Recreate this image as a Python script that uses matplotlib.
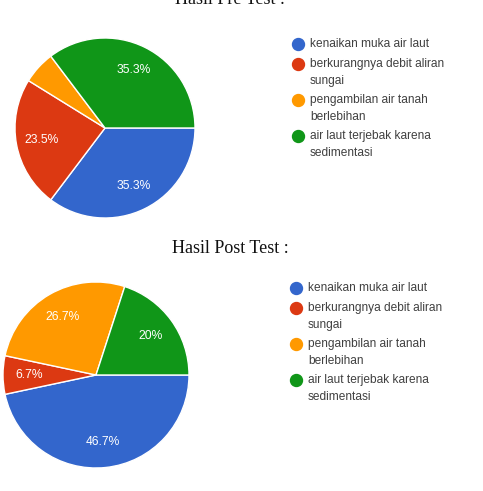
import matplotlib

matplotlib.use("Agg")
import matplotlib.pyplot as plt

categories = [
    "kenaikan muka air laut",
    "berkurangnya debit aliran\nsungai",
    "pengambilan air tanah\nberlebihan",
    "air laut terjebak karena\nsedimentasi",
]
colors = ["#3366cc", "#dc3912", "#ff9900", "#109618"]
pre_counts = [6, 4, 1, 6]
post_counts = [7, 1, 4, 3]
titles = ["Hasil Pre Test :", "Hasil Post Test :"]

W, H = 483, 491
fig = plt.figure(figsize=(W / 100, H / 100), dpi=100)
fig.patch.set_facecolor("white")


def px_axes(x, y, w, h):
    # x, y = top-left corner in pixels
    return fig.add_axes([x / W, 1 - (y + h) / H, w / W, h / H])


def pct_label(p):
    return "" if p < 6 else f"{round(p, 1):g}%"


def draw_pie(counts, cx, cy, r):
    ax = px_axes(cx - r, cy - r, 2 * r, 2 * r)
    ax.pie(
        counts,
        colors=colors,
        startangle=0,
        counterclock=False,
        autopct=pct_label,
        pctdistance=0.72,
        wedgeprops=dict(edgecolor="white", linewidth=1),
        textprops=dict(color="white", fontsize=8.7, family="Liberation Sans"),
    )
    ax.set_xlim(-1, 1)
    ax.set_ylim(-1, 1)
    ax.axis("off")


def draw_legend(x, y_first, step):
    ax = px_axes(0, 0, W, H)
    ax.set_xlim(0, W)
    ax.set_ylim(H, 0)
    ax.axis("off")
    y = y_first
    for label, color in zip(categories, colors):
        ax.plot(x, y, "o", color=color, markersize=8.6)
        ax.text(x + 12, y - 6, label, va="top", ha="left", fontsize=8.6,
                family="Liberation Sans", color="#404040", linespacing=1.56)
        y += step * (label.count("\n") + 1) + 4


draw_pie(pre_counts, 105, 128, 90)
draw_pie(post_counts, 96, 375, 93)
draw_legend(298, 44, 16)
draw_legend(296, 288, 16)

# the first title is cut off at the top edge, as in the source image
fig.text(0.476, 1 - 3.5 / H, titles[0], ha="center", va="baseline",
         family="Liberation Serif", fontsize=13, color="#111111")
fig.text(0.476, 1 - 253 / H, titles[1], ha="center", va="baseline",
         family="Liberation Serif", fontsize=13, color="#111111")

fig.savefig("out.png", dpi=100)
